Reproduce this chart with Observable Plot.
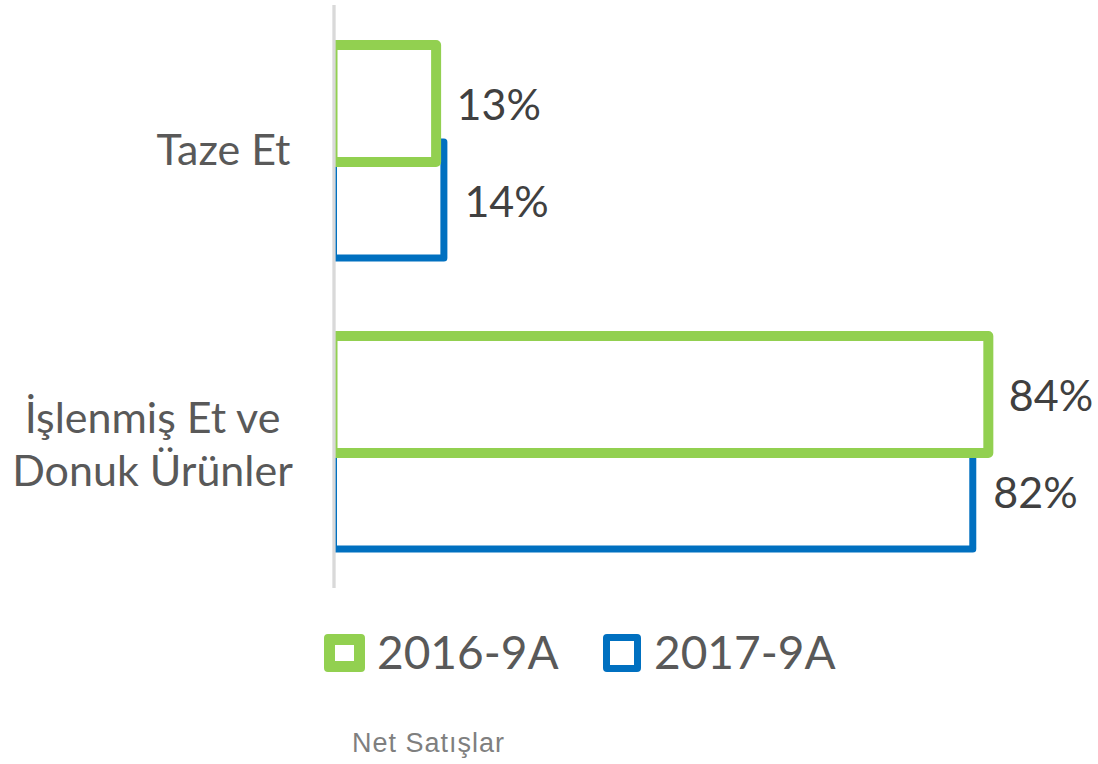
<!DOCTYPE html>
<html><head><meta charset="utf-8">
<script src="https://cdn.jsdelivr.net/npm/d3@7"></script>
<script src="https://cdn.jsdelivr.net/npm/@observablehq/plot@0.6"></script>
<style>
body{margin:0;background:#fff;}
#wrap{position:relative;width:1098px;height:764px;overflow:hidden;font-family:Lato, sans-serif;background:#fff;}
#wrap svg{position:absolute;left:0;top:0;}
.sw{position:absolute;box-sizing:border-box;border-radius:4px;background:#fff;}
.lt{position:absolute;font-size:46px;line-height:1;color:#595959;white-space:nowrap;font-family:Lato, sans-serif;}
#cap{position:absolute;left:352px;top:730px;font-family:"Liberation Sans",Arial,sans-serif;font-size:27px;letter-spacing:1px;color:#7f7f7f;line-height:1;white-space:nowrap;}
</style></head><body><div id="wrap"></div>
<script>
const categories = ["Taze Et", "İşlenmiş Et ve\nDonuk Ürünler"];
const series = ["2016-9A", "2017-9A"];
const values2016 = [13, 84];
const values2017 = [14, 82];
const colors = ["#92D050", "#0070C0"];
const caption = "Net Satışlar";

const data = [];
categories.forEach((c, i) => {
  data.push({category: c, series: series[0], value: values2016[i]});
  data.push({category: c, series: series[1], value: values2017[i]});
});
const d16 = data.filter(d => d.series === series[0]);
const d17 = data.filter(d => d.series === series[1]);

const chart = Plot.plot({
  width: 1098, height: 600,
  marginLeft: 335, marginRight: 63, marginTop: 5, marginBottom: 12,
  x: {domain: [0, 90], axis: null},
  y: {domain: categories, range: [54, 539], paddingInner: 1/3, paddingOuter: 0, axis: null},
  style: {fontFamily: "Lato, sans-serif", background: "white", overflow: "visible"},
  marks: [
    Plot.barX(d17, {x: "value", y: "category", fill: "white", stroke: colors[1], strokeWidth: 7, strokeLinejoin: "round", insetTop: 88, insetBottom: -10, insetLeft: -1.5, clip: "frame"}),
    Plot.barX(d16, {x: "value", y: "category", fill: "white", stroke: colors[0], strokeWidth: 10, strokeLinejoin: "round", insetTop: -9, insetBottom: 86, insetLeft: -2.5, clip: "frame"}),
    Plot.ruleX([0], {stroke: "#d9d9d9", strokeWidth: 3.3, dx: -1.5}),
    Plot.text(d16, {x: "value", y: "category", text: d => d.value + "%", dx: 20, dy: -45, textAnchor: "start", fontSize: 43, fill: "#404040"}),
    Plot.text(d17, {x: "value", y: "category", text: d => d.value + "%", dx: 20, dy: 51.5, textAnchor: "start", fontSize: 43, fill: "#404040"}),
    Plot.text([categories[0]], {y: d => d, text: d => d, frameAnchor: "left", textAnchor: "end", dx: -45, fontSize: 43, fill: "#595959"}),
    Plot.text([categories[1]], {y: d => d, text: d => d, frameAnchor: "left", textAnchor: "middle", dx: -183, fontSize: 43, lineHeight: 1.23, fill: "#595959"})
  ]
});

const wrap = document.getElementById("wrap");
wrap.appendChild(chart);

const legendPos = [
  {sw: 324, w: 41, bw: 11, tx: 377},
  {sw: 603, w: 38, bw: 7, tx: 654}
];
series.forEach((s, i) => {
  const p = legendPos[i];
  const sw = document.createElement("div");
  sw.className = "sw";
  sw.style.left = p.sw + "px";
  sw.style.top = "634px";
  sw.style.width = p.w + "px";
  sw.style.height = "38px";
  sw.style.border = p.bw + "px solid " + colors[i];
  wrap.appendChild(sw);
  const t = document.createElement("div");
  t.className = "lt";
  t.style.left = p.tx + "px";
  t.style.top = "629px";
  t.textContent = s;
  wrap.appendChild(t);
});
const cap = document.createElement("div");
cap.id = "cap";
cap.textContent = caption;
wrap.appendChild(cap);
</script>
</body></html>
